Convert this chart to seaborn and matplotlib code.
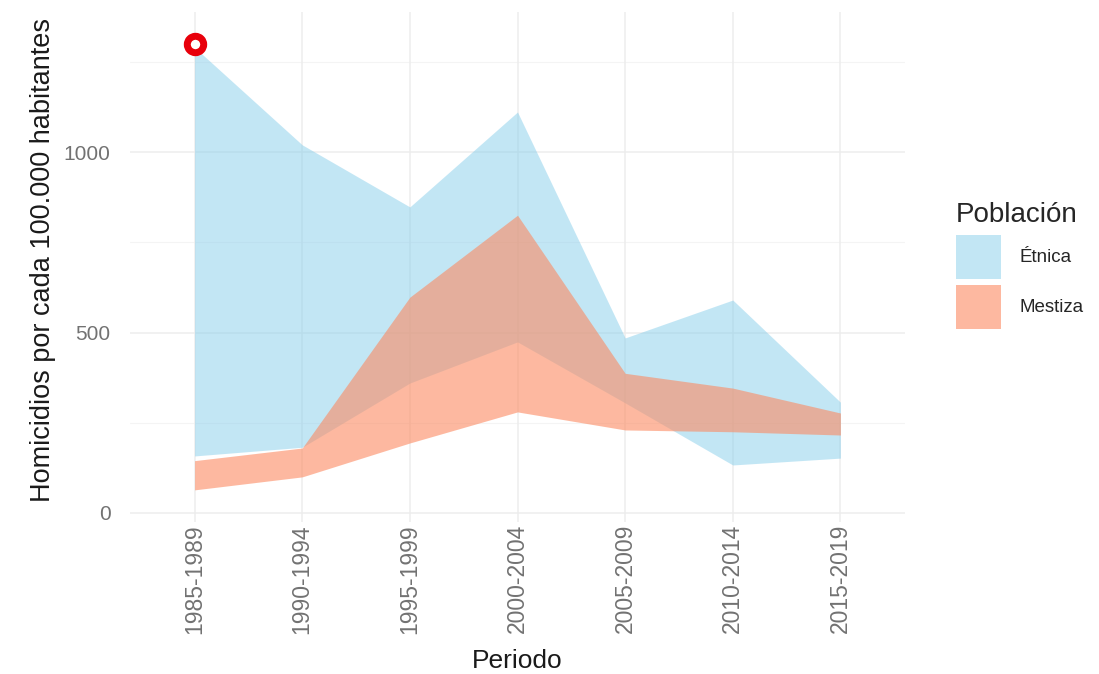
import matplotlib
matplotlib.use("Agg")
import matplotlib.pyplot as plt
from matplotlib.patches import Patch
import seaborn as sns
import pandas as pd
import numpy as np

# ---- data ----
periodos = ["1985-1989", "1990-1994", "1995-1999", "2000-2004",
            "2005-2009", "2010-2014", "2015-2019"]
etnica_sup = [1290, 1020, 848, 1111, 485, 590, 307]
etnica_inf = [158, 182, 360, 474, 305, 133, 152]
mestiza_sup = [145, 180, 598, 825, 387, 346, 277]
mestiza_inf = [64, 100, 194, 280, 230, 225, 216]
destacado_periodo = ["1985-1989"]
destacado_valor = [1300]

y_ticks = [0, 500, 1000]
y_minor = [250, 750, 1250]

col_etnica = "#87CEEB"
col_mestiza = "#FC8A61"

sns.set_theme(style="white")
plt.rcParams["font.family"] = ["Liberation Sans", "DejaVu Sans"]

df = pd.DataFrame({"Periodo": periodos,
                   "etnica_sup": etnica_sup, "etnica_inf": etnica_inf,
                   "mestiza_sup": mestiza_sup, "mestiza_inf": mestiza_inf})
xpos = np.arange(len(periodos))

fig = plt.figure(figsize=(10.99, 6.74), dpi=100)
ax = fig.add_axes([130/1099, 1 - 522/674, (905-130)/1099, (522-12)/674])

# grid
ax.set_axisbelow(True)
for v in y_ticks:
    ax.axhline(v, color="#EDEDED", lw=1.1, zorder=0)
for v in y_minor:
    ax.axhline(v, color="#F4F4F4", lw=0.8, zorder=0)
for xp in xpos:
    ax.axvline(xp, color="#EDEDED", lw=1.1, zorder=0)

ax.fill_between(xpos, df["etnica_inf"], df["etnica_sup"], color=col_etnica,
                alpha=0.5, lw=0, zorder=1)
ax.fill_between(xpos, df["mestiza_inf"], df["mestiza_sup"], color=col_mestiza,
                alpha=0.6, lw=0, zorder=2)

pt = pd.DataFrame({"x": [periodos.index(p) for p in destacado_periodo],
                   "y": destacado_valor})
sns.scatterplot(data=pt, x="x", y="y", ax=ax, s=140, facecolor="white",
                edgecolor="#E8000B", linewidth=5, zorder=5, legend=False)

ax.set_xlim(-0.6, len(periodos) - 0.4)
ax.set_ylim(-25, 1388)
ax.set_xticks(xpos)
ax.set_xticklabels(periodos, rotation=90, fontsize=16.5, color="#727272")
ax.set_yticks(y_ticks)
ax.set_yticklabels([str(v) for v in y_ticks], fontsize=15, color="#727272")
ax.tick_params(axis="y", length=0, pad=14)
ax.tick_params(axis="x", length=0, pad=1.5)
for s in ax.spines.values():
    s.set_visible(False)
ax.grid(False)

ax.set_xlabel("Periodo", fontsize=19, color="#1A1A1A")
ax.xaxis.set_label_coords(0.5, (522 - 649) / 510)
ax.set_ylabel("Homicidios por cada 100.000 habitantes", fontsize=19.5,
              color="#1A1A1A")
ax.yaxis.set_label_coords(-(130 - 56) / 775, (522 - 260) / 510)

handles = [Patch(facecolor=col_etnica, alpha=0.5, lw=0),
           Patch(facecolor=col_mestiza, alpha=0.6, lw=0)]
fig.legend(handles, ["Étnica", "Mestiza"], title="Población",
           loc="upper left", bbox_to_anchor=(948/1099, 1 - 195/674),
           frameon=False, fontsize=13.5, title_fontsize=20,
           handlelength=2.4, handleheight=3.2, labelspacing=0.35,
           handletextpad=1.0, alignment="left", borderaxespad=0)

fig.savefig("out.png", dpi=100)
